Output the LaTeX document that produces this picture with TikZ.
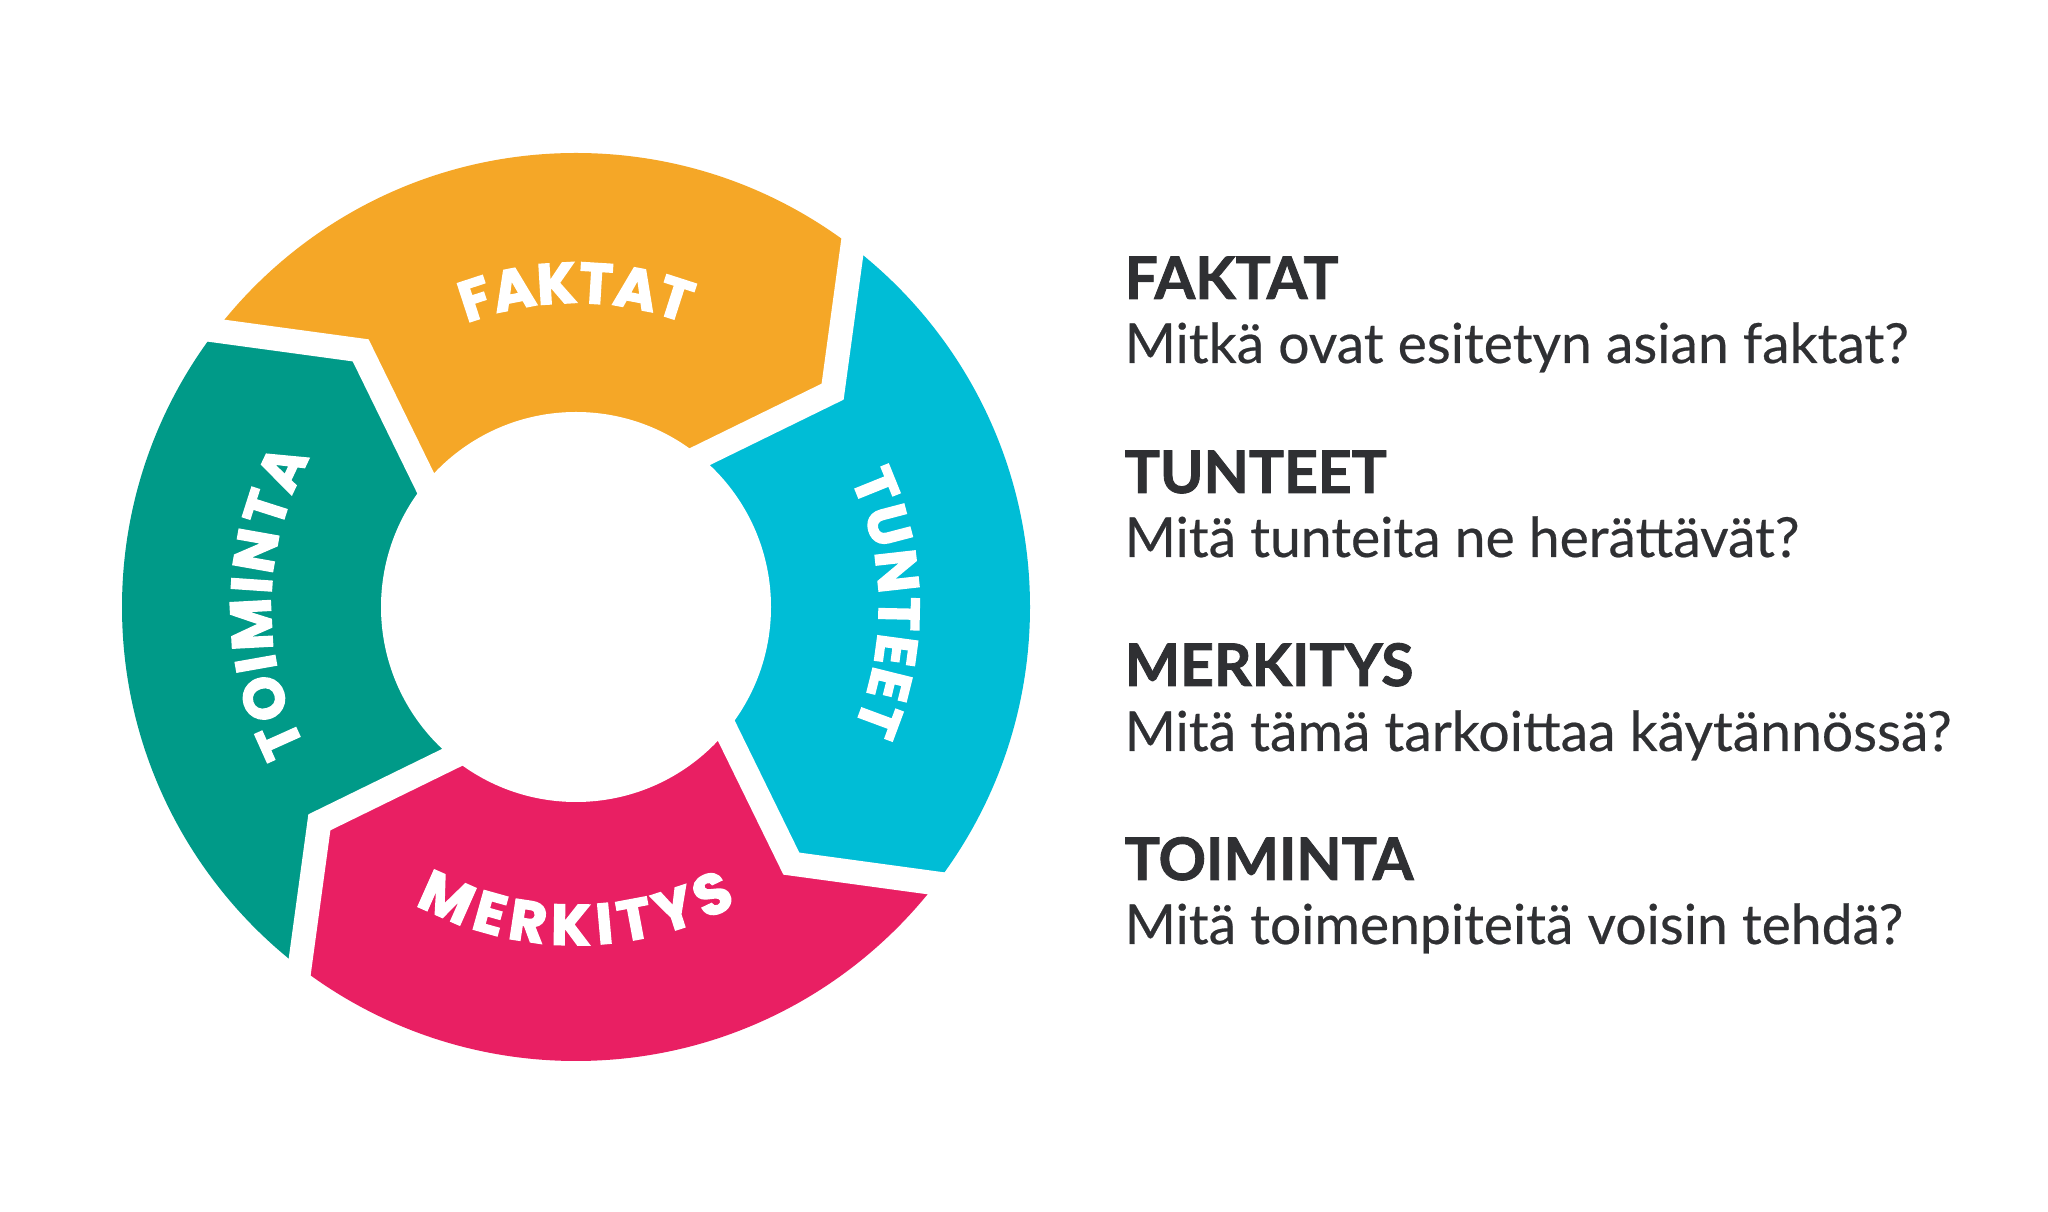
\documentclass[tikz,border=0pt]{standalone}
\usepackage{fontspec}
\usepackage{tikz}
\usetikzlibrary{calc,decorations.text}

\setmainfont{Lato}[UprightFeatures={FakeBold=0.4}, BoldFeatures={FakeBold=1.5}]
\newfontfamily\ringfont{Poppins}[FakeBold=2.5]

\definecolor{faktat}{HTML}{F5A727}
\definecolor{tunteet}{HTML}{00BDD6}
\definecolor{merkitys}{HTML}{E91F63}
\definecolor{toiminta}{HTML}{009A88}
\definecolor{textgray}{HTML}{2F3033}

\newcommand{\ringtext}{\ringfont\bfseries\fontsize{16.3}{18}\selectfont}

\tikzset{
  whitegap/.style={draw=white, line width=0.24cm, miter limit=20},
  ringlabel/.style={decorate, decoration={text along path, text align=center, text color=white}},
  ringfit/.style={decorate, decoration={text along path, text align=fit to path, text color=white}},
  head/.style={anchor=base west, inner sep=0pt, text=textgray, font=\fontsize{16.7}{20}\selectfont\bfseries},
  question/.style={anchor=base west, inner sep=0pt, text=textgray, font=\fontsize{15.7}{19}\selectfont}
}

\begin{document}
\begin{tikzpicture}[x=0.01cm,y=0.01cm]
            \useasboundingbox[fill=white] (0,0) rectangle (2048,1212);
            \coordinate (c) at (576,605);

            % corners of the four chevron cuts
            \foreach \a [count=\i] in {52.5,142.5,232.5,322.5}{
                \coordinate (o\i) at ($(c)+(\a:454)$);
                \coordinate (m\i) at ($(c)+(\a-12.5:335)$);
                \coordinate (n\i) at ($(c)+(\a-2:195)$);
                \coordinate (oo\i) at ($(m\i)!2!(o\i)$);
                \coordinate (nn\i) at ($(m\i)!2!(n\i)$);
            }

            \begin{scope}
                \clip (c) circle (454);
                \fill [faktat] (c) -- (nn1) -- (m1) -- (oo1) -- ($(c)+(97.5:800)$) -- (oo2) -- (m2) -- (nn2) -- cycle;
                \fill [toiminta] (c) -- (nn2) -- (m2) -- (oo2) -- ($(c)+(187.5:800)$) -- (oo3) -- (m3) -- (nn3) -- cycle;
                \fill [merkitys] (c) -- (nn3) -- (m3) -- (oo3) -- ($(c)+(277.5:800)$) -- (oo4) -- (m4) -- (nn4) -- cycle;
                \fill [tunteet] (c) -- (nn4) -- (m4) -- (oo4) -- ($(c)+(7.5:800)$) -- (oo1) -- (m1) -- (nn1) -- cycle;
            \end{scope}
            \fill [white] (c) circle (195);

            \draw [whitegap] (oo1) -- (m1) -- (nn1);
            \draw [whitegap] (oo2) -- (m2) -- (nn2);
            \draw [whitegap] (oo3) -- (m3) -- (nn3);
            \draw [whitegap] (oo4) -- (m4) -- (nn4);

            % labels on the ring
            \path [ringlabel, decoration={text={|\ringtext|FAKTAT}}] ($(c)+(130:304)$) arc [start angle=130, end angle=50, radius=304];
            \path [ringfit, decoration={text={|\ringtext|TUNTEET}}] ($(c)+(25.2:303)$) arc [start angle=25.2, end angle=-23.6, radius=303];
            \path [ringfit, decoration={text={|\ringtext|MERKITYS}}] ($(c)+(241.6:338)$) arc [start angle=241.6, end angle=298.4, radius=338];
            \path [ringfit, decoration={text={|\ringtext|TOIMINTA}}] ($(c)+(207.4:305)$) arc [start angle=207.4, end angle=150.7, radius=305];

            % questions
            \node [head] (faktat) at (1124,913) {FAKTAT};
            \node [question] (faktatq) at (1124,849) {Mitkä ovat esitetyn asian faktat?};
            \node [head] (tunteet) at (1124,719) {TUNTEET};
            \node [question] (tunteetq) at (1124,655) {Mitä tunteita ne herättävät?};
            \node [head] (merkitys) at (1124,526) {MERKITYS};
            \node [question] (merkitysq) at (1124,461) {Mitä tämä tarkoittaa käytännössä?};
            \node [head] (toiminta) at (1124,332) {TOIMINTA};
            \node [question] (toimintaq) at (1124,268) {Mitä toimenpiteitä voisin tehdä?};
\end{tikzpicture}
\end{document}
